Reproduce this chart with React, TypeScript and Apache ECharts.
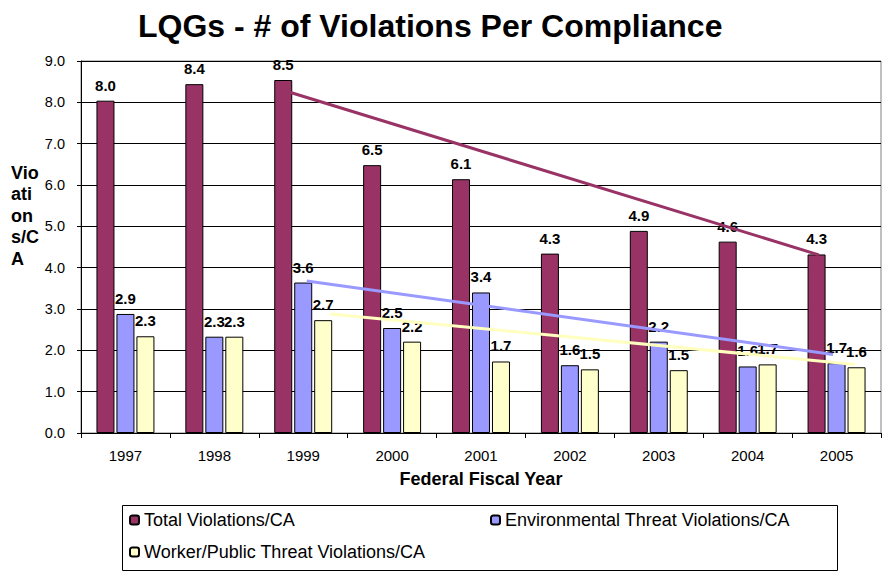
import React, { useEffect, useRef } from "react";
import * as echarts from "echarts";

const years = ["1997", "1998", "1999", "2000", "2001", "2002", "2003", "2004", "2005"];
const totalViolations = [8.04, 8.44, 8.54, 6.48, 6.14, 4.34, 4.89, 4.63, 4.32];
const envViolations = [2.88, 2.33, 3.64, 2.54, 3.4, 1.64, 2.21, 1.61, 1.69];
const workerViolations = [2.34, 2.33, 2.73, 2.21, 1.73, 1.54, 1.52, 1.66, 1.59];
const yTicks = [0, 1, 2, 3, 4, 5, 6, 7, 8, 9];

// trend lines: [category position (0..9), value]
const totalTrend = [[2.34, 8.25], [8.3, 4.31]];
const envTrend = [[2.54, 3.68], [8.46, 1.9]];
const workerTrend = [[2.8, 2.88], [8.71, 1.66]];

const seriesNames = [
  "Total Violations/CA",
  "Environmental Threat Violations/CA",
  "Worker/Public Threat Violations/CA",
];
const colors = ["#993366", "#9999FF", "#FFFFCC"];
const trendColors = ["#993366", "#9999FF", "#FFFFC0"];

const FONT = "'Liberation Sans', Arial, sans-serif";

export default function App() {
  const ref = useRef<HTMLDivElement>(null);
  useEffect(() => {
    if (!ref.current) return;
    const chart = echarts.init(ref.current, undefined, { renderer: "svg" });
    const barLabel = {
      show: true,
      position: "top",
      distance: 8,
      fontSize: 15,
      fontWeight: "bold",
      color: "#000",
      fontFamily: FONT,
      formatter: (p: any) => Number(p.value).toFixed(1),
    };
    const bars = [totalViolations, envViolations, workerViolations].map((d, i) => ({
      name: seriesNames[i],
      type: "bar",
      data: d,
      barWidth: 18,
      barGap: "11%",
      itemStyle: { color: colors[i], borderColor: "#000", borderWidth: 1 },
      label: barLabel,
      z: 2,
    }));
    const trends = [totalTrend, envTrend, workerTrend].map((d, i) => ({
      name: "trend" + i,
      type: "line",
      xAxisIndex: 1,
      yAxisIndex: 0,
      data: d,
      symbol: "none",
      lineStyle: { color: trendColors[i], width: 3 },
      z: 5,
      silent: true,
    }));
    const legendCommon = {
      orient: "horizontal",
      itemWidth: 9,
      itemHeight: 9,
      selectedMode: false,
      textStyle: { fontSize: 18, color: "#000", fontFamily: FONT },
      padding: 0,
    };
    chart.setOption({
      animation: false,
      textStyle: { fontFamily: FONT },
      title: {
        text: "LQGs - # of Violations Per Compliance",
        left: 133,
        top: 5,
        textStyle: { fontSize: 32, fontWeight: "bold", color: "#000", fontFamily: FONT },
      },
      grid: {
        left: 81,
        right: 2,
        top: 61,
        bottom: 142,
        show: true,
        borderColor: "#808080",
        borderWidth: 1,
        backgroundColor: "transparent",
      },
      legend: [
        { ...legendCommon, data: [seriesNames[0]], left: 129, top: 511 },
        { ...legendCommon, data: [seriesNames[1]], left: 490, top: 511 },
        { ...legendCommon, data: [seriesNames[2]], left: 129, top: 543 },
      ],
      xAxis: [
        {
          type: "category",
          data: years,
          boundaryGap: true,
          axisLine: { lineStyle: { color: "#000", width: 1 } },
          axisTick: { show: true, length: 5, lineStyle: { color: "#000" } },
          axisLabel: { fontSize: 15, color: "#000", margin: 15, fontFamily: FONT },
          name: "Federal Fiscal Year",
          nameLocation: "middle",
          nameGap: 37,
          nameTextStyle: { fontSize: 18, fontWeight: "bold", color: "#000", fontFamily: FONT },
        },
        {
          type: "value",
          min: 0,
          max: years.length,
          show: false,
        },
      ],
      yAxis: {
        type: "value",
        min: yTicks[0],
        max: yTicks[yTicks.length - 1],
        interval: 1,
        axisLine: { show: true, lineStyle: { color: "#000", width: 1 } },
        axisTick: { show: true, length: 4, lineStyle: { color: "#000" } },
        axisLabel: {
          fontSize: 14.5,
          color: "#000",
          margin: 16,
          fontFamily: FONT,
          formatter: (v: number) => v.toFixed(1),
        },
        splitLine: { show: true, lineStyle: { color: "#000", width: 1 } },
      },
      graphic: [
        {
          type: "text",
          left: 11,
          top: 162,
          style: {
            text: "Vio\nati\non\ns/C\nA",
            font: "bold 18px " + FONT,
            lineHeight: 21.5,
            fill: "#000",
          },
        },
        {
          type: "rect",
          shape: { x: 122.5, y: 505.5, width: 715, height: 65 },
          style: { fill: "none", stroke: "#000", lineWidth: 1 },
        },
      ],
      series: [...bars, ...trends],
    });
    return () => chart.dispose();
  }, []);
  return <div ref={ref} style={{ width: 883, height: 575, position: "absolute", left: 0, top: 0 }} />;
}
